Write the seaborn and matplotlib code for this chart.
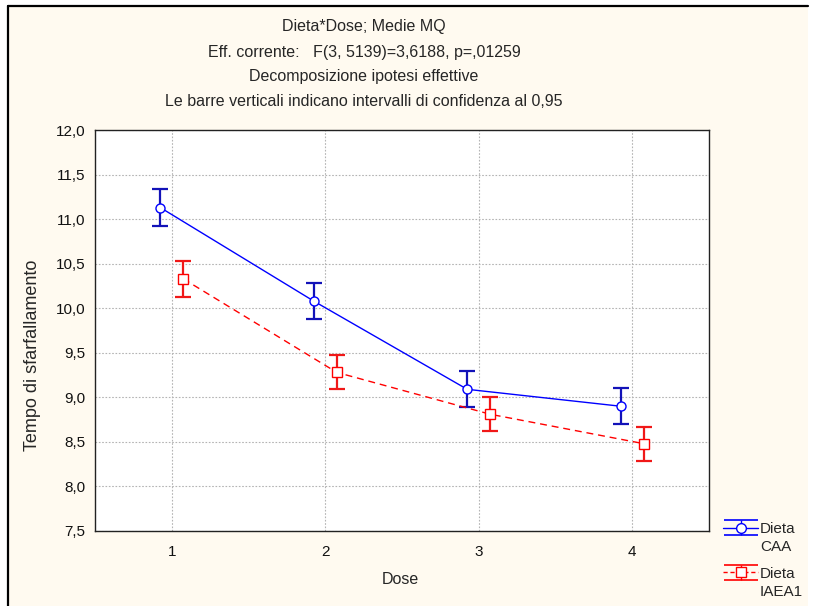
import matplotlib
matplotlib.use("Agg")
import matplotlib.pyplot as plt
from matplotlib.patches import Rectangle
from matplotlib.ticker import FuncFormatter, FixedLocator
import numpy as np
import pandas as pd
import seaborn as sns

# Least-squares means and 95% confidence half-widths per diet and dose
doses = [1, 2, 3, 4]
diets = ["CAA", "IAEA1"]
mean_caa = [11.13, 10.08, 9.09, 8.90]
ci_caa = [0.21, 0.20, 0.20, 0.20]
mean_iaea1 = [10.33, 9.28, 8.81, 8.48]
ci_iaea1 = [0.20, 0.19, 0.19, 0.19]

title_lines = [
    "Dieta*Dose; Medie MQ",
    "Eff. corrente:   F(3, 5139)=3,6188, p=,01259",
    "Decomposizione ipotesi effettive",
    "Le barre verticali indicano intervalli di confidenza al 0,95",
]

sns.set_style("white")
plt.rcParams["font.family"] = ["Liberation Sans", "DejaVu Sans"]
plt.rcParams["font.size"] = 11

W, H = 816, 606
fig = plt.figure(figsize=(W / 100, H / 100), dpi=100)
fig.patch.set_facecolor("white")

# cream panel with a dark frame on its left and top edges
bg = "#FFFAF0"
fig.patches.append(Rectangle((8 / W, 0), (808 - 8) / W, 1 - 6 / H,
                             transform=fig.transFigure, facecolor=bg,
                             edgecolor="none", zorder=-2))
fig.add_artist(plt.Line2D([8 / W, 8 / W], [0, 1 - 6 / H], color="black",
                          lw=1.6, transform=fig.transFigure))
fig.add_artist(plt.Line2D([8 / W, 808 / W], [1 - 6 / H, 1 - 6 / H],
                          color="black", lw=1.6, transform=fig.transFigure))

ax = fig.add_axes([95 / W, 1 - 531 / H, (709 - 95) / W, (531 - 130) / H])
ax.set_facecolor("white")
# hidden axes that only hosts the legend symbols
proxy_ax = fig.add_axes([0, 0, 0.01, 0.01])
proxy_ax.set_visible(False)

# side-by-side offset of the two diets around each dose
offset = {diets[0]: -0.075, diets[1]: 0.075}
colors = {diets[0]: "#0000FF", diets[1]: "#FF0000"}
bar_colors = {diets[0]: "#1212B8", diets[1]: "#F01818"}
markers = {diets[0]: "o", diets[1]: "s"}

df = pd.DataFrame({
    "Dose": doses * 2,
    "Dieta": [diets[0]] * 4 + [diets[1]] * 4,
    "media": mean_caa + mean_iaea1,
    "ci": ci_caa + ci_iaea1,
})
df["xpos"] = df["Dose"] + df["Dieta"].map(offset)

sns.lineplot(data=df, x="xpos", y="media", hue="Dieta", style="Dieta",
             palette=colors, markers=markers,
             dashes={diets[0]: "", diets[1]: (5, 3.5)},
             markersize=6.5, linewidth=1.0, legend=False, ax=ax, zorder=3)
# open markers outlined in the series colour
for ln in ax.get_lines():
    c = ln.get_color()
    ln.set_markerfacecolor("white")
    ln.set_markeredgecolor(c)
    ln.set_markeredgewidth(1.0)

handles = []
for d in diets:
    sub = df[df["Dieta"] == d]
    ax.errorbar(sub["xpos"], sub["media"], yerr=sub["ci"], fmt="none",
                ecolor=bar_colors[d], elinewidth=1.6, capsize=5.8,
                capthick=1.6, zorder=2)
    h = proxy_ax.errorbar([0], [0], yerr=[1], fmt="-" + markers[d],
                          color=colors[d], ecolor=colors[d],
                          ls="-" if d == diets[0] else (0, (3, 2)),
                          mfc="white", mec=colors[d], ms=7, lw=1.0,
                          elinewidth=1.0, capsize=12, capthick=1.2)
    handles.append(h)

ax.set_xlim(0.5, 4.5)
ax.set_ylim(7.5, 12.0)
ax.xaxis.set_major_locator(FixedLocator(doses))
ax.yaxis.set_major_locator(FixedLocator(np.arange(7.5, 12.01, 0.5)))
ax.xaxis.set_major_formatter(FuncFormatter(lambda v, p: f"{v:.0f}"))
ax.yaxis.set_major_formatter(FuncFormatter(lambda v, p: f"{v:.1f}".replace(".", ",")))
ax.tick_params(axis="both", length=0, labelsize=11, colors="#111111")
ax.tick_params(axis="y", pad=7)
ax.tick_params(axis="x", pad=10)
ax.grid(True, color="#B4B4B4", linestyle=(0, (1.5, 1.5)), linewidth=0.8)
ax.set_axisbelow(True)
for s in ax.spines.values():
    s.set_visible(True)
    s.set_color("#222222")
    s.set_linewidth(1.0)
ax.set_xlabel("")
ax.set_ylabel("")

fig.text(400 / W, 1 - 580 / H, "Dose", ha="center", va="center", fontsize=11.5)
fig.text(33 / W, 1 - 355 / H, "Tempo di sfarfallamento", ha="center",
         va="center", rotation=90, fontsize=13)

for i, line in enumerate(title_lines):
    fig.text(364 / W, 1 - (27 + 25 * i) / H, line, ha="center", va="center",
             fontsize=11.5)

# legend: factor name beside the symbol, level name on the line below
leg = fig.legend(handles=handles, labels=["Dieta"] * len(diets),
                 loc="upper left", bbox_to_anchor=(717 / W, 1 - 516 / H),
                 frameon=False, fontsize=11, handlelength=2.3,
                 handletextpad=0.12, labelspacing=2.0, borderaxespad=0)
fig.canvas.draw()
inv = fig.transFigure.inverted()
for txt, d in zip(leg.get_texts(), diets):
    bb = txt.get_window_extent()
    x0, y0 = inv.transform((bb.x0, bb.y0))
    fig.text(x0, y0 - 18 / H, d, ha="left", va="bottom", fontsize=11)

fig.savefig("out.png", dpi=100, facecolor=fig.get_facecolor())
